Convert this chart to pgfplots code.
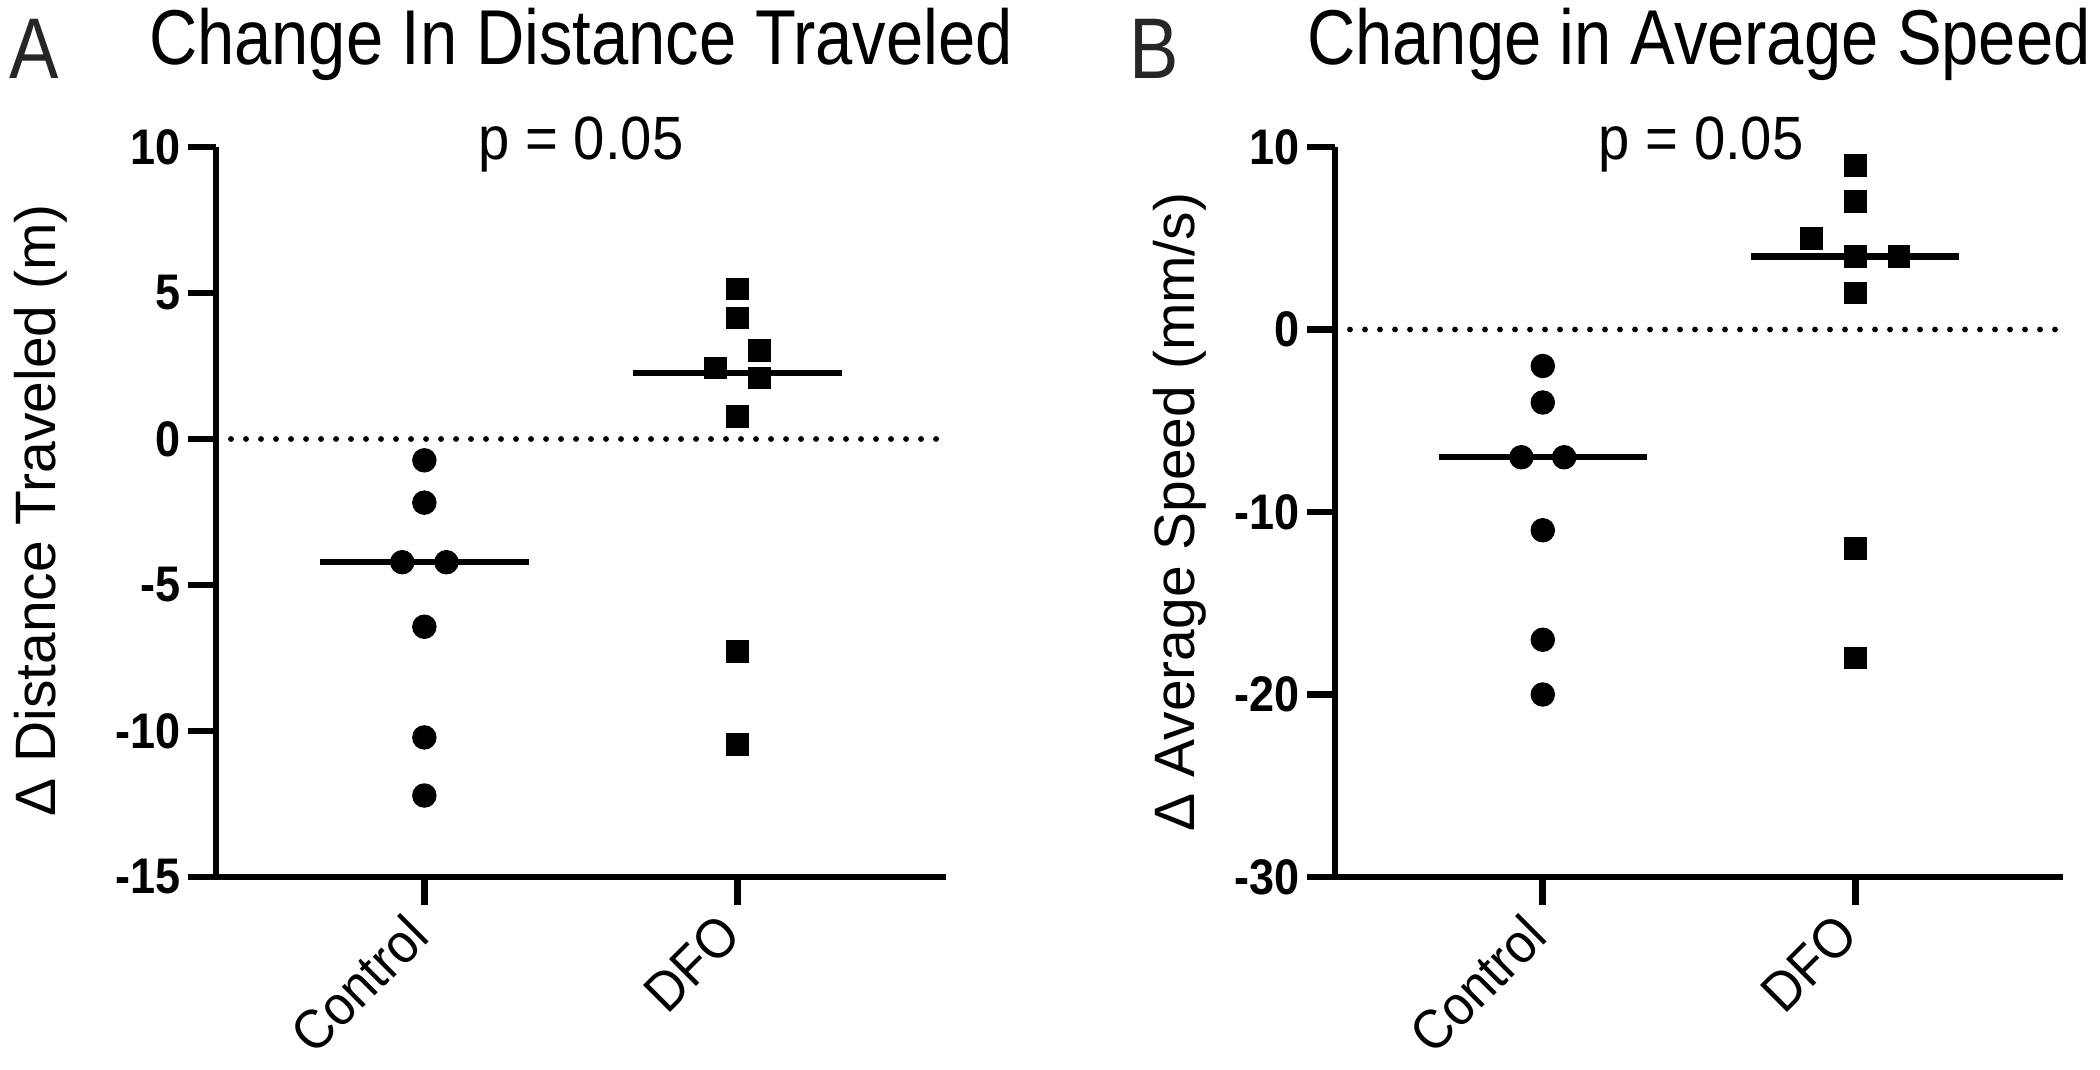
\documentclass[border=0pt]{standalone}
\usepackage{pgfplots}
\pgfplotsset{compat=1.18}
\usepackage{fontspec}
\setmainfont{Liberation Sans}
\newfontfamily\narrowfont[FakeStretch=0.86]{Liberation Sans}
\newfontfamily\tickfont[FakeStretch=0.9]{Liberation Sans}
\newfontfamily\labfont[FakeStretch=0.92]{Liberation Sans}

\pgfplotsset{
  gp/.style={
    scale only axis,
    height=262.8pt,
    anchor=south west,
    axis x line*=bottom, axis y line*=left,
    axis line style={line width=2.4pt, black},
    tick align=outside,
    major tick length=10pt,
    tick style={line width=2.4pt, black},
    xmin=-0.665, xmax=1.665,
    xtick={0,1},
    xticklabels={Control,DFO},
    xticklabel style={font=\labfont\fontsize{20}{24}\selectfont, rotate=45, anchor=north east, inner sep=1pt, xshift=-6pt, yshift=5pt},
    yticklabel style={font=\tickfont\fontsize{18}{21}\selectfont\bfseries, inner xsep=2.5pt},
    clip=false,
  },
  dots/.style={only marks, mark=*, mark size=4.2pt, black},
  sqs/.style={only marks, mark=square*, mark size=3.9pt, black},
  med/.style={black, line width=2.2pt},
  zero/.style={black, line width=2.1pt, dash pattern=on 0pt off 5.4pt, line cap=round},
}

\begin{document}
\begin{tikzpicture}
\useasboundingbox (0,0) rectangle (756pt,385.2pt);

% Panel A
\begin{axis}[gp, at={(77.76pt,69.48pt)}, width=262.8pt,
  ymin=-15, ymax=10, ytick={-15,-10,-5,0,5,10},
  yticklabels={-15,-10,-5,0,5,10}]
\addplot[zero] coordinates {(-0.617,0) (1.665,0)};
\addplot[med] coordinates {(-0.333,-4.22) (0.333,-4.22)};
\addplot[med] coordinates {(0.667,2.26) (1.333,2.26)};
\addplot[dots] coordinates {
 (0,-0.73) (0,-2.18) (-0.0705,-4.22) (0.0705,-4.22) (0,-6.43) (0,-10.22) (0,-12.21)};
\addplot[sqs] coordinates {
 (1,5.14) (1,4.14) (1.0705,3.02) (0.9295,2.43) (1.0705,2.09) (1,0.78) (1,-7.29) (1,-10.45)};
\end{axis}

% Panel B
\begin{axis}[gp, at={(480.6pt,69.48pt)}, width=262.08pt,
  ymin=-30, ymax=10, ytick={-30,-20,-10,0,10},
  yticklabels={-30,-20,-10,0,10}]
\addplot[zero] coordinates {(-0.617,0) (1.665,0)};
\addplot[med] coordinates {(-0.333,-7) (0.333,-7)};
\addplot[med] coordinates {(0.667,4) (1.333,4)};
\addplot[dots] coordinates {
 (0,-2) (0,-4) (-0.0685,-7) (0.0685,-7) (0,-11) (0,-17) (0,-20)};
\addplot[sqs] coordinates {
 (1,9) (1,7) (0.86,5) (1,4) (1.14,4) (1,2) (1,-12) (1,-18)};
\end{axis}

% Titles and labels
\node[anchor=base west, font=\narrowfont\fontsize{31}{34}\selectfont, text=black!85] at (0pt,357pt) {A};
\node[anchor=base west, font=\narrowfont\fontsize{31}{34}\selectfont, text=black!85] at (403.2pt,357pt) {B};
\node[anchor=base, font=\narrowfont\fontsize{28}{32}\selectfont] at (209.16pt,362pt) {Change In Distance Traveled};
\node[anchor=base, font=\narrowfont\fontsize{28}{32}\selectfont] at (611.6pt,362pt) {Change in Average Speed};
\node[anchor=base, font=\labfont\fontsize{22}{26}\selectfont] at (209.16pt,327.6pt) {p = 0.05};
\node[anchor=base, font=\labfont\fontsize{22}{26}\selectfont] at (612.4pt,327.6pt) {p = 0.05};
\node[rotate=90, font=\fontsize{20.5}{24}\selectfont] at (14.8pt,201.5pt) {Δ Distance Traveled (m)};
\node[rotate=90, font=\fontsize{20.5}{24}\selectfont] at (424.8pt,200.9pt) {Δ Average Speed (mm/s)};
\end{tikzpicture}
\end{document}
